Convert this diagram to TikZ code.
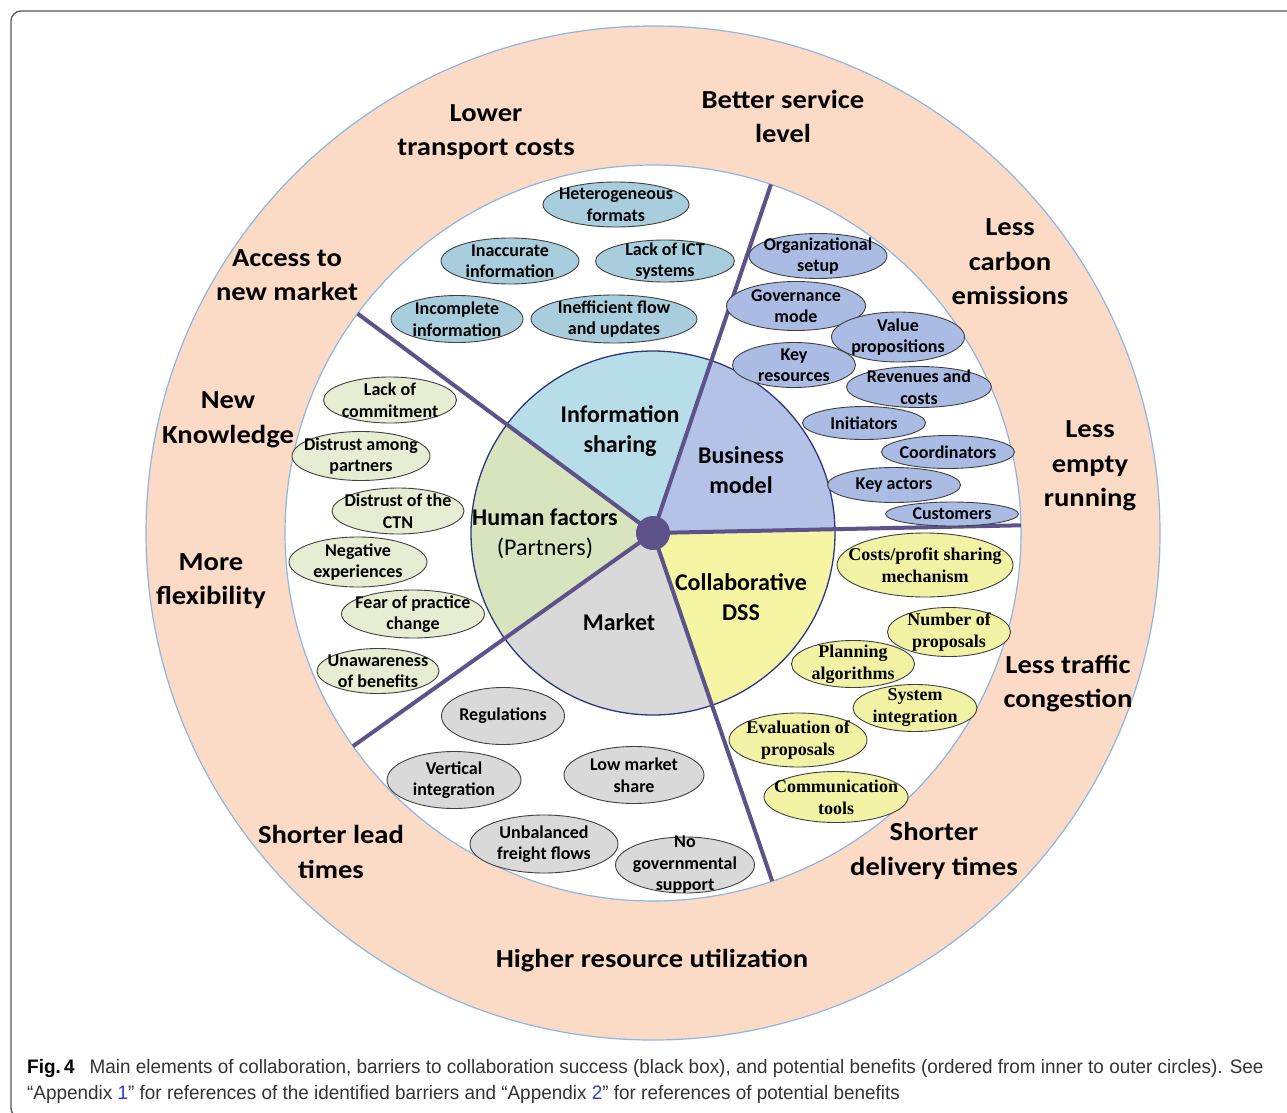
\documentclass[tikz,border=0pt]{standalone}
\usepackage{fontspec}
\usetikzlibrary{shapes.geometric,calc}
\newfontfamily\carl{Carlito}
\newfontfamily\carlw{Carlito}[FakeStretch=1.1]
\newfontfamily\tnr{Liberation Serif}
\newfontfamily\capf{Liberation Sans}[FakeStretch=0.97]
\definecolor{ringC}{HTML}{FBDAC6}
\definecolor{edgeC}{HTML}{8FB6E2}
\definecolor{divC}{HTML}{5D5289}
\definecolor{pieEdge}{HTML}{2E3580}
\definecolor{infoS}{HTML}{B7DDE8}
\definecolor{infoE}{HTML}{A8CDDC}
\definecolor{busS}{HTML}{B3C2E6}
\definecolor{busE}{HTML}{AABCE4}
\definecolor{humS}{HTML}{D7E4BD}
\definecolor{humE}{HTML}{E6EDD2}
\definecolor{mktS}{HTML}{D9D9D9}
\definecolor{mktE}{HTML}{D9D9D9}
\definecolor{dssS}{HTML}{F5F5A3}
\definecolor{dssE}{HTML}{F2F2A5}
\definecolor{capC}{HTML}{333333}
\definecolor{linkC}{HTML}{2A3FD0}
\pgfdeclarelayer{txt}
\pgfsetlayers{main,txt}
\tikzset{
  bub/.style={ellipse, draw=black!75, line width=0.9pt, inner sep=0pt},
  sanslbl/.style={font=\carl\bfseries\fontsize{18}{21.5}\selectfont, align=center, inner sep=0pt},
  seriflbl/.style={font=\tnr\bfseries\fontsize{18}{22}\selectfont, align=center, inner sep=0pt},
  outerlbl/.style={font=\carlw\bfseries\fontsize{26}{34.5}\selectfont, align=center, inner sep=0pt},
  innerlbl/.style={font=\carl\bfseries\fontsize{24}{30}\selectfont, align=center, inner sep=0pt},
  divider/.style={draw=divC, line width=4pt},
  caplbl/.style={font=\capf\fontsize{19.5}{23}\selectfont, text=capC, anchor=west, inner sep=0pt}
}
% #1 fill, #2 label style, #3 name, #4 x, #5 y, #6 w, #7 h, #8 text
\newcommand\bubble[8]{%
  \node[bub, fill=#1, minimum width=#6pt, minimum height=#7pt] (#3) at (#4,#5) {};
  \begin{pgfonlayer}{txt}\node[#2] (#3-t) at (#3) {#8};\end{pgfonlayer}}
\begin{document}
\begin{tikzpicture}[x=1pt,y=-1pt]
\useasboundingbox (0,0) rectangle (1287,1113);
\begin{scope}
\clip (0,0) rectangle (1287,1113);
\fill[white] (0,0) rectangle (1287,1113);
\draw[draw=black!65, line width=1.3pt, rounded corners=10pt] (11,11) rectangle (1310,1118);
\end{scope}
\coordinate (c) at (653,533);
% rings
\fill[ringC, draw=edgeC, line width=1.2pt] (c) circle[radius=507pt];
\fill[white, draw=edgeC, line width=1.2pt] (c) circle[radius=368pt];
% sectors
\fill[infoS] (c) -- +(71.3:182pt) arc[start angle=71.3, end angle=143.4, radius=182pt] -- cycle;
\fill[humS] (c) -- +(143.4:182pt) arc[start angle=143.4, end angle=215.4, radius=182pt] -- cycle;
\fill[mktS] (c) -- +(215.4:182pt) arc[start angle=215.4, end angle=288.9, radius=182pt] -- cycle;
\fill[dssS] (c) -- +(-71.1:182pt) arc[start angle=-71.1, end angle=1.2, radius=182pt] -- cycle;
\fill[busS] (c) -- +(1.2:182pt) arc[start angle=1.2, end angle=71.3, radius=182pt] -- cycle;
\draw[pieEdge, line width=1.3pt] (c) circle[radius=182pt];
% dividers
\coordinate (d1) at ($(c)+(71.3:368pt)$);
\coordinate (d2) at ($(c)+(143.4:368pt)$);
\coordinate (d3) at ($(c)+(215.4:368pt)$);
\coordinate (d4) at ($(c)+(-71.1:368pt)$);
\coordinate (d5) at ($(c)+(1.2:368pt)$);
\foreach \e in {d1,d2,d3,d4,d5} \draw[divider] (c) -- (\e);
\node[circle, fill=divC, minimum size=34pt, inner sep=0pt] (hub) at (c) {};
% information sharing barriers
\bubble{infoE}{sanslbl}{e1}{616}{204.5}{146}{45}{Heterogeneous\\formats}
\bubble{infoE}{sanslbl}{e2}{510}{261}{138}{46}{Inaccurate\\information}
\bubble{infoE}{sanslbl}{e3}{665}{261}{139}{42}{Lack of ICT\\systems}
\bubble{infoE}{sanslbl}{e4}{457}{319}{132}{47}{Incomplete\\information}
\bubble{infoE}{sanslbl}{e5}{614}{319}{166}{48}{Inefficient flow\\and updates}
% business model barriers
\bubble{busE}{sanslbl}{b1}{818}{256}{138}{45}{Organizational\\setup}
\bubble{busE}{sanslbl}{b2}{796}{306}{139}{49}{Governance\\mode}
\bubble{busE}{sanslbl}{b3}{898}{337}{133}{50}{Value\\propositions}
\bubble{busE}{sanslbl}{b4}{794}{365}{123}{45}{Key\\resources}
\bubble{busE}{sanslbl}{b5}{919}{387}{145}{41}{Revenues and\\costs}
\bubble{busE}{sanslbl}{b6}{864}{423}{123}{33}{Initiators}
\bubble{busE}{sanslbl}{b7}{948}{452}{133}{33}{Coordinators}
\bubble{busE}{sanslbl}{b8}{894}{485}{133}{35}{Key actors}
\bubble{busE}{sanslbl}{b9}{952}{514}{133}{24}{Customers}
% human factors barriers
\bubble{humE}{sanslbl}{h1}{390}{400}{133}{46}{Lack of\\commitment}
\bubble{humE}{sanslbl}{h2}{361}{456}{138}{49}{Distrust among\\partners}
\bubble{humE}{sanslbl}{h3}{398}{511}{132}{46}{Distrust of the\\CTN}
\bubble{humE}{sanslbl}{h4}{358}{562}{138}{50}{Negative\\experiences}
\bubble{humE}{sanslbl}{h5}{413}{614}{143}{48}{Fear of practice\\change}
\bubble{humE}{sanslbl}{h6}{378}{671}{122}{45}{Unawareness\\of benefits}
% market barriers
\bubble{mktE}{sanslbl}{m1}{503}{716}{123}{57}{Regulations}
\bubble{mktE}{sanslbl}{m2}{454}{780}{134}{57}{Vertical\\integration}
\bubble{mktE}{sanslbl}{m3}{634}{775}{140}{57}{Low market\\share}
\bubble{mktE}{sanslbl}{m4}{544}{844}{148}{58}{Unbalanced\\freight flows}
\bubble{mktE}{sanslbl}{m5}{685}{865}{139}{56}{No\\governmental\\support}
% collaborative DSS barriers
\bubble{dssE}{seriflbl}{s1}{925}{565}{176}{64}{Costs/profit sharing\\mechanism}
\bubble{dssE}{seriflbl}{s2}{949}{632}{123}{49}{Number of\\proposals}
\bubble{dssE}{seriflbl}{s3}{853}{664}{123}{47}{Planning\\algorithms}
\bubble{dssE}{seriflbl}{s4}{915}{708}{124}{47}{System\\integration}
\bubble{dssE}{seriflbl}{s5}{798}{740}{138}{54}{Evaluation of\\proposals}
\bubble{dssE}{seriflbl}{s6}{836}{797}{144}{51}{Communication\\tools}
% inner labels
\node[innerlbl] (l-info) at (620,431) {Information\\sharing};
\node[innerlbl] (l-bus) at (741,470) {Business\\model};
\node[innerlbl] (l-hum) at (545,533.5) {Human factors\\{\mdseries(Partners)}};
\node[innerlbl] (l-dss) at (741,597) {Collaborative\\DSS};
\node[innerlbl] (l-mkt) at (619,622) {Market};
% benefits
\node[outerlbl] (o1) at (486,132) {Lower\\transport costs};
\node[outerlbl] (o2) at (783,116.5) {Better service\\level};
\node[outerlbl] (o3) at (1010,262) {Less\\carbon\\emissions};
\node[outerlbl] (o4) at (1090,466) {Less\\empty\\running};
\node[outerlbl] (o5) at (1068,683.5) {Less traffic\\congestion};
\node[outerlbl] (o6) at (934,851) {Shorter\\delivery times};
\node[outerlbl] (o7) at (652,961) {Higher resource utilization};
\node[outerlbl] (o8) at (331,852) {Shorter lead\\times};
\node[outerlbl] (o9) at (211,581) {More\\flexibility};
\node[outerlbl] (o10) at (228,420) {New\\Knowledge};
\node[outerlbl] (o11) at (287,275) {Access to\\new market};
% caption
\node[caplbl] (cap1) at (27,1068) {{\bfseries\color{black}Fig.\,4}\hspace{0.5em} Main elements of collaboration, barriers to collaboration success (black box), and potential benefits (ordered from inner to outer circles). See};
\node[caplbl] (cap2) at (27,1094) {“Appendix {\color{linkC}1}” for references of the identified barriers and “Appendix {\color{linkC}2}” for references of potential benefits};
\end{tikzpicture}
\end{document}
